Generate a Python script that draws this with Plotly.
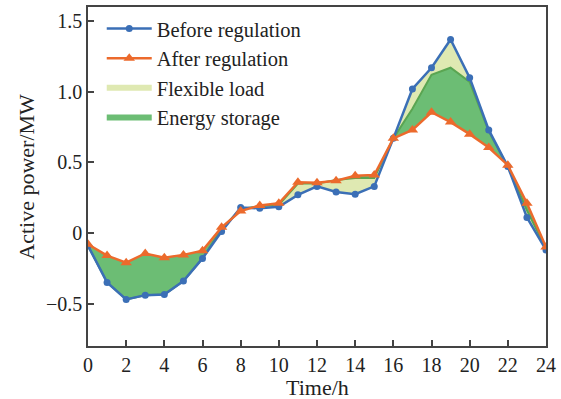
import plotly.graph_objects as go

# Hourly active power profile (MW)
hours = list(range(25))
before_regulation = [-0.09, -0.35, -0.47, -0.44, -0.435, -0.34, -0.18, 0.01, 0.18, 0.175, 0.185,
                     0.27, 0.33, 0.29, 0.275, 0.33, 0.67, 1.02, 1.17, 1.37, 1.10, 0.73, 0.47, 0.11, -0.12]
after_flexible_load = [-0.09, -0.35, -0.47, -0.44, -0.435, -0.34, -0.18, 0.03, 0.17, 0.19, 0.20,
                       0.35, 0.35, 0.375, 0.39, 0.39, 0.67, 0.88, 1.12, 1.17, 1.07, 0.72, 0.47, 0.16, -0.11]
after_regulation = [-0.08, -0.16, -0.21, -0.145, -0.175, -0.155, -0.125, 0.04, 0.155, 0.195, 0.21,
                    0.36, 0.355, 0.37, 0.405, 0.41, 0.67, 0.73, 0.855, 0.785, 0.70, 0.605, 0.48, 0.21, -0.10]

y_ticks = [-0.5, 0, 0.5, 1.0, 1.5]
y_tick_text = ["\u22120.5", "0", "0.5", "1.0", "1.5"]
x_ticks = list(range(0, 25, 2))

BLUE = "#3b6fb6"
ORANGE = "#ec6a2c"
LIGHT = "#dfe9b2"
GREEN = "#6cbd74"
FONT = "Liberation Serif"

fig = go.Figure()

# Base of the flexible-load band
fig.add_trace(go.Scatter(x=hours, y=before_regulation, mode="lines", showlegend=False,
                         line=dict(width=0, color=BLUE), hoverinfo="skip"))
# Flexible load: between original profile and profile after load shifting
fig.add_trace(go.Scatter(x=hours, y=after_flexible_load, mode="none", fill="tonexty",
                         fillcolor=LIGHT, name="Flexible load", legendrank=3))
# Energy storage: between profile after load shifting and the final profile
fig.add_trace(go.Scatter(x=hours, y=after_regulation, mode="none", fill="tonexty",
                         fillcolor=GREEN, name="Energy storage", legendrank=4))
# Boundary between the two bands
fig.add_trace(go.Scatter(x=hours, y=after_flexible_load, mode="lines", showlegend=False,
                         line=dict(color="#5aa552", width=2), hoverinfo="skip"))

fig.add_trace(go.Scatter(x=hours, y=before_regulation, mode="lines+markers",
                         name="Before regulation", legendrank=1,
                         line=dict(color=BLUE, width=2.5),
                         marker=dict(symbol="circle", size=7, color=BLUE)))
fig.add_trace(go.Scatter(x=hours, y=after_regulation, mode="lines+markers",
                         name="After regulation", legendrank=2,
                         line=dict(color=ORANGE, width=2.5),
                         marker=dict(symbol="triangle-up", size=10, color=ORANGE)))

axis_common = dict(showline=True, linecolor="#444", linewidth=1.5, mirror=True,
                   ticks="inside", ticklen=6, tickcolor="#444", tickwidth=1.5,
                   showgrid=False, zeroline=False,
                   tickfont=dict(family=FONT, size=20, color="#222"))

fig.update_layout(
    width=561, height=399,
    margin=dict(l=88, r=12, t=5, b=53),
    paper_bgcolor="white", plot_bgcolor="white",
    font=dict(family=FONT, color="#222"),
    xaxis=dict(range=[0, 24], tickvals=x_ticks, ticktext=[str(v) for v in x_ticks],
               **axis_common),
    yaxis=dict(range=[-0.8, 1.6], tickvals=y_ticks, ticktext=y_tick_text, **axis_common),
    legend=dict(x=0.03, y=0.995, xanchor="left", yanchor="top", traceorder="normal",
                bgcolor="rgba(255,255,255,0)", font=dict(size=20.5, family=FONT),
                itemwidth=45, tracegroupgap=0),
    showlegend=True,
    annotations=[
        dict(text="Time/h", xref="paper", yref="paper", x=0.5, y=-0.123,
             xanchor="center", yanchor="middle", showarrow=False,
             font=dict(size=22, family=FONT, color="#222")),
        dict(text="Active power/MW", xref="paper", yref="paper", x=-0.135, y=0.5,
             xanchor="center", yanchor="middle", textangle=-90, showarrow=False,
             font=dict(size=22, family=FONT, color="#222")),
    ],
)

fig.write_html("out.html")
